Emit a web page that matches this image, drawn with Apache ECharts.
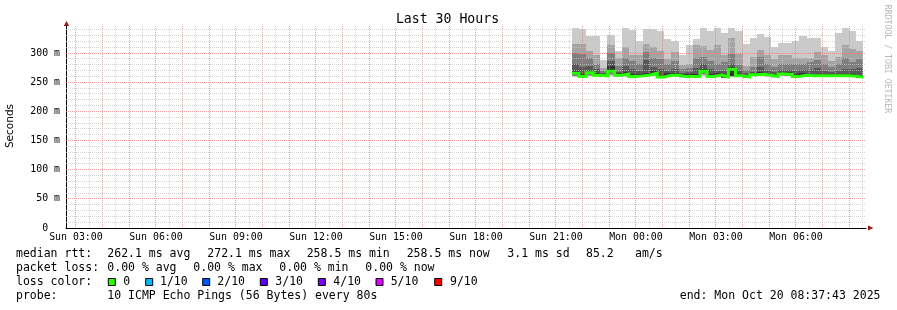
<!DOCTYPE html>
<html><head><meta charset="utf-8">
<script src="https://cdn.jsdelivr.net/npm/echarts@6/dist/echarts.min.js"></script>
<style>html,body{margin:0;padding:0;background:#fff}#c{width:897px;height:310px}</style>
</head><body><div id="c"></div>
<script>
// ---------------- data ----------------
const axisStart = 'Sun 02:37:43';
const axisEnd = 'Mon 08:37:43';
const colStepMinutes = 16;
const colStart = ['Sun 21:36','Sun 21:52','Sun 22:08','Sun 22:24','Sun 22:40','Sun 22:56','Sun 23:12','Sun 23:28','Sun 23:44',
  'Mon 00:00','Mon 00:16','Mon 00:32','Mon 00:48','Mon 01:04','Mon 01:20','Mon 01:36','Mon 01:52','Mon 02:08','Mon 02:24','Mon 02:40',
  'Mon 02:56','Mon 03:12','Mon 03:28','Mon 03:44','Mon 04:00','Mon 04:16','Mon 04:32','Mon 04:48','Mon 05:04','Mon 05:20',
  'Mon 05:36','Mon 05:52','Mon 06:08','Mon 06:24','Mon 06:40','Mon 06:56','Mon 07:12','Mon 07:28','Mon 07:44','Mon 08:00','Mon 08:16'];
// median rtt (ms)
const median = [265.1,259.7,266.3,261.7,260.8,268.9,261.7,264.0,259.7,260.8,
  262.3,265.4,258.9,262.0,262.0,259.7,259.7,259.7,268.9,259.7,
  262.3,258.9,272.1,260.8,258.9,262.6,263.4,262.0,259.7,264.0,
  263.4,259.7,262.0,261.0,261.0,261.0,261.0,261.0,261.0,260.0,258.5];
// sorted pings (ms), ping1 = fastest, ping10 = slowest
const ping10 = [343,342,330,329,288,331,304,343,339,321, 342,342,337,324,320,297,313,324,343,338,
  343,334,343,337,315,325,333,328,311,317, 317,320,330,325,325,311,304,334,343,338, 320];
const ping9 = [315,315,304,297,275,314,292,311,297,297, 315,311,303,290,302,280,282,313,312,305,
  314,297,326,299,277,294,305,296,289,296, 296,292,292,292,302,297,287,294,314,307, 304];
const ping8 = [300,298,291,281,270,300,277,292,287,282, 302,291,289,281,286,273,275,291,294,287,
  282,285,298,280,271,276,294,281,276,281, 281,281,281,284,288,281,276,281,292,284, 290];
const ping7 = [281,276,277,272,266,287,268,278,272,270, 288,276,272,270,272,266,267,275,281,272,
  270,270,282,270,265,268,276,270,268,271, 271,270,271,271,275,270,268,270,273,272, 274];
const ping6 = [270.0,263.5,270.0,265.5,264.5,278.0,265.5,268.0,263.5,264.5, 266.0,269.0,262.5,265.5,265.5,263.5,263.5,263.5,273.0,263.5,
  266.0,262.5,276.0,264.5,262.5,266.0,267.0,265.5,263.5,267.5, 267.0,263.5,265.5,264.5,264.5,264.5,264.5,264.5,264.5,263.5, 262.0];
const ping5 = [264.5,259.1,265.7,261.1,260.2,268.3,261.1,263.4,259.1,260.2, 261.7,264.8,258.3,261.4,261.4,259.1,259.1,259.1,268.3,259.1,
  261.7,258.3,260.5,260.2,258.3,262.0,262.8,261.4,259.1,263.4, 262.8,259.1,261.4,260.4,260.4,260.4,260.4,260.4,260.4,259.4, 257.9];
const ping4 = [262.5,258.7,263.6,260.4,259.6,265.8,260.5,262.2,258.7,259.6, 261.0,263.3,257.9,260.8,260.8,258.7,258.7,258.7,265.8,258.7,
  261.1,257.9,260.3,259.6,257.9,261.4,262.0,260.9,258.7,262.6, 262.0,258.7,260.9,259.9,259.9,259.9,259.9,259.9,259.9,259.1, 257.6];
const ping3 = [260.8,258.4,261.9,259.8,259.2,263.5,260.0,261.2,258.4,259.2, 260.5,262.0,257.7,260.3,260.3,258.4,258.4,258.4,263.5,258.4,
  260.6,257.7,260.0,259.2,257.7,260.8,261.3,260.4,258.4,261.9, 261.3,258.4,260.4,259.5,259.5,259.5,259.5,259.5,259.5,258.8, 257.4];
const ping2 = [260.0,258.1,260.8,259.4,258.9,261.5,259.6,260.3,258.1,258.9, 260.0,260.8,257.4,259.8,259.8,258.1,258.1,258.1,261.5,258.1,
  260.2,257.4,259.7,258.9,257.4,260.3,260.6,259.9,258.1,261.1, 260.7,258.1,260.0,259.1,259.1,259.1,259.1,259.1,259.1,258.5, 257.2];
const ping1 = [259.5,257.8,260.0,259.0,258.6,260.0,259.2,259.5,257.8,258.6, 259.5,259.8,257.2,259.4,259.4,257.8,257.8,257.8,260.0,257.8,
  259.8,257.2,259.4,258.6,257.2,259.8,260.0,259.5,257.8,260.5, 260.2,257.8,259.6,258.8,258.8,258.8,258.8,258.8,258.8,258.2, 257.0];

const xTickLabels = ['Sun 03:00','Sun 06:00','Sun 09:00','Sun 12:00','Sun 15:00','Sun 18:00','Sun 21:00','Mon 00:00','Mon 03:00','Mon 06:00'];
const yTickValues = [0,50,100,150,200,250,300];
const yTickLabels = ['0  ','50 m','100 m','150 m','200 m','250 m','300 m'];
const yMax = 346.3;

const titleText = 'Last 30 Hours';
const yAxisName = 'Seconds';
const watermark = 'RRDTOOL / TOBI OETIKER';
const rttLegend = ['median rtt:','262.1 ms avg','272.1 ms max','258.5 ms min','258.5 ms now','3.1 ms sd','85.2','am/s'];
const lossLegend = ['packet loss:','0.00 % avg','0.00 % max','0.00 % min','0.00 % now'];
const lossColorTitle = 'loss color:';
const lossLabels = ['0','1/10','2/10','3/10','4/10','5/10','9/10'];
const lossColors = ['#26ff00','#00b8ff','#0059ff','#5e00ff','#7e00ff','#dd00ff','#ff0000'];
const probeLegend = ['probe:','10 ICMP Echo Pings (56 Bytes) every 80s'];
const endText = 'end: Mon Oct 20 08:37:43 2025';

// ---------------- layout / style ----------------
const smokeColors = ['#cacaca','#a4a4a4','#7e7e7e','#585858','#323232'];
const MONO = '"DejaVu Sans Mono", monospace';
const rttX = [16,107.3,207.3,306.7,406.7,507.3,586,635];
const lossX = [16,107.3,193.3,279.3,365.3];
const sqX = [108.3,145.7,202.7,260.3,318.3,376,434.7];
const sqLabelX = [123.3,160,217.3,275.3,333.3,390.7,450];
const lineY = [254,268.3,282.3,296.3];

function toHours(s){const p=s.split(' ');const t=p[1].split(':').map(Number);return (p[0]==='Mon'?24:0)+t[0]+t[1]/60+(t[2]||0)/3600;}
const xMin = toHours(axisStart), xMax = toHours(axisEnd);
const starts = colStart.map(toHours);
const ends = starts.map((s,i)=> i<starts.length-1 ? starts[i+1] : s + colStepMinutes/60);
const pings = [ping1,ping2,ping3,ping4,ping5,ping6,ping7,ping8,ping9,ping10];
const smokeData = starts.map((s,i)=>[s, ends[i]].concat(pings.map(p=>p[i])));
const medianData = starts.map((s,i)=>[s, median[i]]);
medianData.push([ends[ends.length-1], median[median.length-1]]);
const xTickHours = xTickLabels.map(toHours);

const chart = echarts.init(document.getElementById('c'), null, {renderer:'canvas'});

function renderSmoke(params, api){
  const s = api.value(0), e = api.value(1);
  const children = [];
  for (let i=0;i<5;i++){
    const lo = api.value(2+i), hi = api.value(11-i);
    const a = api.coord([s,hi]), b = api.coord([e,lo]);
    const x0 = Math.round(a[0]), x1 = Math.round(b[0]);
    const y0 = Math.round(a[1]), y1 = Math.round(b[1]);
    children.push({type:'rect', shape:{x:x0,y:y0,width:x1-x0,height:Math.max(1,y1-y0)}, style:{fill:smokeColors[i]}});
  }
  return {type:'group', children};
}

function renderGrid(params, api){
  const cs = params.coordSys;
  const children = [];
  const top = cs.y, bot = cs.y + cs.height, left = cs.x, right = cs.x + cs.width;
  for (let k=Math.ceil(xMin*2); k<=Math.floor(xMax*2); k++){
    const h = k/2;
    const px = Math.floor(api.coord([h,0])[0]) + 0.5;
    const major = (k%2===0);
    children.push({type:'line', shape:{x1:px,y1:top,x2:px,y2:bot},
      style:{stroke: major?'rgba(230,120,120,0.7)':'rgba(200,200,200,0.75)', lineWidth:1, lineDash:[1,1]}});
  }
  for (let v=10; v<yMax; v+=10){
    const py = Math.floor(api.coord([xMin,v])[1]) + 0.5;
    const major = (v%50===0);
    children.push({type:'line', shape:{x1:left,y1:py,x2:right,y2:py},
      style:{stroke: major?'rgba(230,120,120,0.7)':'rgba(200,200,200,0.75)', lineWidth:1, lineDash:[1,1]}});
  }
  return {type:'group', children};
}

const graphics = [];
graphics.push({type:'text', x:447.5, y:19.5, style:{text:titleText, font:'13.2px '+MONO, fill:'#000', align:'center', verticalAlign:'middle'}});
graphics.push({type:'text', x:10.5, y:126, rotation:Math.PI/2, style:{text:yAxisName, font:'10.5px "DejaVu Sans", sans-serif', fill:'#000', align:'center', verticalAlign:'middle'}});
graphics.push({type:'text', x:887.5, y:59, rotation:-Math.PI/2, style:{text:watermark, font:'8.2px '+MONO, fill:'#b8b8b8', align:'center', verticalAlign:'middle'}});
// axis arrows
graphics.push({type:'polygon', shape:{points:[[63.8,26],[69.2,26],[66.5,21]]}, style:{fill:'#951a1a'}});
graphics.push({type:'polygon', shape:{points:[[868,225.5],[868,230.5],[873.5,228]]}, style:{fill:'#951a1a'}});
// legend lines
rttLegend.forEach((t,i)=>graphics.push({type:'text', x:rttX[i], y:lineY[0], style:{text:t, font:'11.5px '+MONO, fill:'#000', verticalAlign:'middle'}}));
lossLegend.forEach((t,i)=>graphics.push({type:'text', x:lossX[i], y:lineY[1], style:{text:t, font:'11.5px '+MONO, fill:'#000', verticalAlign:'middle'}}));
graphics.push({type:'text', x:16, y:lineY[2], style:{text:lossColorTitle, font:'11.5px '+MONO, fill:'#000', verticalAlign:'middle'}});
lossLabels.forEach((t,i)=>{
  graphics.push({type:'rect', shape:{x:sqX[i],y:lineY[2]-3.8,width:7,height:7}, style:{fill:lossColors[i], stroke:'#000', lineWidth:1}});
  graphics.push({type:'text', x:sqLabelX[i], y:lineY[2], style:{text:t, font:'11.5px '+MONO, fill:'#000', verticalAlign:'middle'}});
});
graphics.push({type:'text', x:16, y:lineY[3], style:{text:probeLegend[0], font:'11.5px '+MONO, fill:'#000', verticalAlign:'middle'}});
graphics.push({type:'text', x:107.3, y:lineY[3], style:{text:probeLegend[1], font:'11.5px '+MONO, fill:'#000', verticalAlign:'middle'}});
graphics.push({type:'text', x:880.5, y:lineY[3], style:{text:endText, font:'11.5px '+MONO, fill:'#000', align:'right', verticalAlign:'middle'}});

chart.setOption({
  animation:false,
  backgroundColor:'#ffffff',
  grid:{left:66, top:26, width:800, height:202, containLabel:false},
  xAxis:{type:'value', min:xMin, max:xMax,
    axisLine:{show:true, lineStyle:{color:'#000', width:1}},
    axisTick:{show:false},
    splitLine:{show:false},
    axisLabel:{customValues:xTickHours, margin:4, color:'#000', fontFamily:'DejaVu Sans Mono', fontSize:9.9,
      formatter:(v)=>{const i=xTickHours.findIndex(h=>Math.abs(h-v)<1e-6);return i>=0?xTickLabels[i]:'';}}
  },
  yAxis:{type:'value', min:0, max:yMax,
    axisLine:{show:true, lineStyle:{color:'#000', width:1}},
    axisTick:{show:false},
    splitLine:{show:false},
    axisLabel:{customValues:yTickValues, margin:6, color:'#000', fontFamily:'DejaVu Sans Mono', fontSize:9.9,
      formatter:(v)=>{const i=yTickValues.indexOf(v);return i>=0?yTickLabels[i]:'';}}
  },
  series:[
    {type:'custom', name:'smoke', z:1, renderItem:renderSmoke, data:smokeData,
      encode:{x:[0,1], y:[2,3,4,5,6,7,8,9,10,11]}, silent:true},
    {type:'custom', name:'grid', z:2, renderItem:renderGrid, data:[[xMin,0]], encode:{x:0,y:1}, silent:true},
    {type:'line', name:'median', z:3, step:'end', data:medianData, showSymbol:false, symbol:'none',
      lineStyle:{width:3, color:'#26ff00', join:'miter', cap:'butt'}, silent:true}
  ],
  graphic:graphics
});
</script></body></html>
